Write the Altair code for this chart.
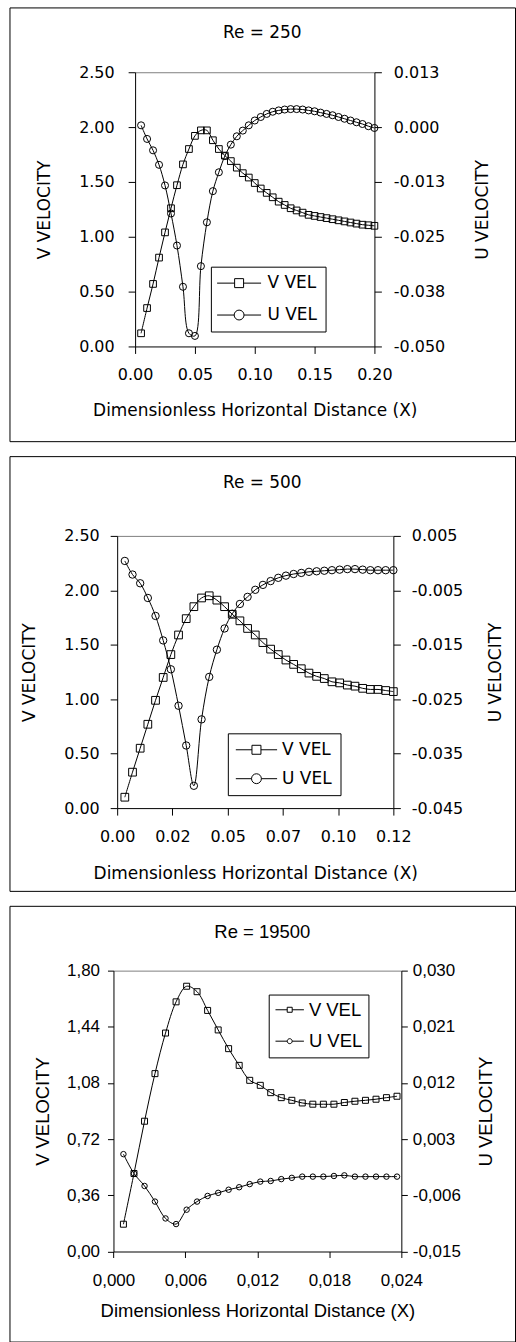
import altair as alt
import pandas as pd

# ---------------- data ----------------
series_names = ["V VEL", "U VEL"]

re250_x = [0.005, 0.010, 0.015, 0.020, 0.025, 0.030, 0.035, 0.040, 0.045, 0.050,
           0.055, 0.060, 0.065, 0.070, 0.075, 0.080, 0.085, 0.090, 0.095, 0.100,
           0.105, 0.110, 0.115, 0.120, 0.125, 0.130, 0.135, 0.140, 0.145, 0.150,
           0.155, 0.160, 0.165, 0.170, 0.175, 0.180, 0.185, 0.190, 0.195, 0.200]
re250_v = [0.12, 0.35, 0.57, 0.81, 1.04, 1.26, 1.47, 1.66, 1.80, 1.92,
           1.97, 1.97, 1.88, 1.80, 1.74, 1.69, 1.63, 1.58, 1.54, 1.49,
           1.44, 1.40, 1.36, 1.32, 1.29, 1.26, 1.24, 1.22, 1.20, 1.19,
           1.18, 1.17, 1.16, 1.15, 1.14, 1.13, 1.12, 1.11, 1.105, 1.10]
re250_u = [0.0004, -0.0027, -0.0053, -0.0086, -0.0133, -0.0197, -0.0270, -0.0364, -0.0470, -0.0476,
           -0.0317, -0.0217, -0.0146, -0.0103, -0.0066, -0.0040, -0.0021, -0.0008, 0.0004, 0.0015,
           0.0023, 0.0030, 0.0035, 0.0038, 0.0040, 0.0041, 0.0041, 0.0040, 0.0038, 0.0036,
           0.0033, 0.0030, 0.0027, 0.0023, 0.0019, 0.0015, 0.0011, 0.0007, 0.0002, -0.0002]

re500_x = [0.00333, 0.00667, 0.01000, 0.01333, 0.01667, 0.02000, 0.02333, 0.02667, 0.03000, 0.03333,
           0.03667, 0.04000, 0.04333, 0.04667, 0.05000, 0.05333, 0.05667, 0.06000, 0.06333, 0.06667,
           0.07000, 0.07333, 0.07667, 0.08000, 0.08333, 0.08667, 0.09000, 0.09333, 0.09667, 0.10000,
           0.10333, 0.10667, 0.11000, 0.11333, 0.11667, 0.12000]
re500_v = [0.10, 0.33, 0.55, 0.77, 0.99, 1.20, 1.41, 1.59, 1.74, 1.85,
           1.93, 1.95, 1.91, 1.85, 1.78, 1.72, 1.65, 1.59, 1.52, 1.46,
           1.41, 1.36, 1.32, 1.28, 1.24, 1.21, 1.19, 1.16, 1.15, 1.13,
           1.12, 1.10, 1.09, 1.09, 1.08, 1.07]
re500_u = [0.0004, -0.0021, -0.0037, -0.0064, -0.0097, -0.0142, -0.0195, -0.0262, -0.0335, -0.0409,
           -0.0287, -0.0209, -0.0159, -0.0120, -0.0093, -0.0075, -0.0062, -0.0049, -0.0040, -0.0033,
           -0.0027, -0.0023, -0.0020, -0.0018, -0.0016, -0.0015, -0.0014, -0.0013, -0.0012, -0.0011,
           -0.0011, -0.0012, -0.0013, -0.0013, -0.0013, -0.0013]

re19500_x = [0.00083, 0.00171, 0.00259, 0.00346, 0.00434, 0.00522, 0.00610, 0.00697, 0.00785, 0.00873,
             0.00960, 0.01048, 0.01136, 0.01224, 0.01311, 0.01399, 0.01487, 0.01574, 0.01662, 0.01750,
             0.01838, 0.01925, 0.02013, 0.02101, 0.02189, 0.02276, 0.02364]
re19500_v = [0.175, 0.50, 0.835, 1.14, 1.40, 1.60, 1.70, 1.665, 1.545, 1.42,
             1.30, 1.193, 1.097, 1.065, 1.018, 0.986, 0.969, 0.952, 0.944, 0.944,
             0.944, 0.955, 0.963, 0.969, 0.976, 0.986, 0.995]
re19500_u = [0.0006, -0.0025, -0.0045, -0.0070, -0.0097, -0.0106, -0.0083, -0.0070, -0.0061, -0.0056,
             -0.0051, -0.0047, -0.0042, -0.0038, -0.0037, -0.0034, -0.0032, -0.0030, -0.0030, -0.0030,
             -0.0029, -0.0028, -0.0030, -0.0030, -0.0030, -0.0030, -0.0030]

re250_xticks = [0.0, 0.05, 0.10, 0.15, 0.20]
re250_vticks = [0.0, 0.5, 1.0, 1.5, 2.0, 2.5]
re250_uticks = [-0.05, -0.0375, -0.025, -0.0125, 0.0, 0.0125]
re500_xticks = [0.0, 0.024, 0.048, 0.072, 0.096, 0.12]
re500_vticks = [0.0, 0.5, 1.0, 1.5, 2.0, 2.5]
re500_uticks = [-0.045, -0.035, -0.025, -0.015, -0.005, 0.005]
re19500_xticks = [0.0, 0.006, 0.012, 0.018, 0.024]
re19500_vticks = [0.0, 0.36, 0.72, 1.08, 1.44, 1.80]
re19500_uticks = [-0.015, -0.006, 0.003, 0.012, 0.021, 0.030]

W = 507
ROUND3 = "format(datum.value < 0 ? datum.value - 1e-9 : datum.value + 1e-9, '.3f')"


def legend_paths(half_line, sq, r):
    v = f"M{-half_line},0H{-sq}M{sq},0H{half_line}M{-sq},{-sq}H{sq}V{sq}H{-sq}Z"
    u = (f"M{-half_line},0H{-r}M{r},0H{half_line}"
         f"M{-r},0A{r},{r},0,1,1,{r},0A{r},{r},0,1,1,{-r},0Z")
    return [v, u]


def make_panel(title, xs, vs, us, xticks, vticks, uticks, g):
    df = pd.DataFrame({"x": xs, "V": vs, "U": us})
    H = g["H"]
    fnt = g["font"]
    common = dict(labelFont=fnt, labelFontSize=g["tick_fs"], labelColor="black", labelFlush=False,
                  titleFont=fnt, titleFontSize=g["title_fs"], titleFontWeight="normal",
                  titleColor="black", domainColor="black", domainWidth=1,
                  tickColor="black", tickWidth=1, grid=False)
    xkw = dict(orient="bottom", offset=g["y0"] - H, values=xticks, format=g["xfmt"],
               tickSize=g["tick"], labelPadding=g["xlab"] - g["tick"],
               labelBaseline="alphabetic", title="Dimensionless Horizontal Distance (X)",
               titleY=g["xtitle"], titleBaseline="alphabetic", **common)
    vkw = dict(orient="left", offset=-g["x0"], values=vticks, format=g["vfmt"],
               tickSize=g["tick"], labelPadding=g["vpad"], title="V VELOCITY",
               titleAngle=270, titleX=g["vtitle"], titleY=(g["y0"] + g["y1"]) / 2,
               titleBaseline="alphabetic", titleAlign="center", **common)
    ukw = dict(orient="right", offset=g["x1"] - W, values=uticks, format=".3f",
               tickSize=g["tick"], labelPadding=g["upad"], title="U VELOCITY",
               titleAngle=270, titleX=g["utitle"], titleY=(g["y0"] + g["y1"]) / 2,
               titleBaseline="alphabetic", titleAlign="center", **common)
    if g["round_u"]:
        ukw["labelExpr"] = ROUND3
    if g["comma"]:
        for kw in (xkw, vkw, ukw):
            kw["labelExpr"] = "replace(datum.label, '.', ',')"

    def xs_scale():
        return alt.Scale(domain=[xticks[0], xticks[-1]], range=[g["x0"], g["x1"]], nice=False, zero=False)

    x_enc = alt.X("x:Q", scale=xs_scale(), axis=alt.Axis(**xkw))
    x_top = alt.X("x:Q", scale=xs_scale(),
                  axis=alt.Axis(orient="top", offset=-g["y1"], domainColor="#808080", domainWidth=1,
                                ticks=False, labels=False, title=None, grid=False))
    y_v = alt.Y("V:Q", scale=alt.Scale(domain=[vticks[0], vticks[-1]], range=[g["y0"], g["y1"]],
                                       nice=False, zero=False), axis=alt.Axis(**vkw))
    y_u = alt.Y("U:Q", scale=alt.Scale(domain=[uticks[0], uticks[-1]], range=[g["y0"], g["y1"]],
                                       nice=False, zero=False), axis=alt.Axis(**ukw))

    base = alt.Chart(df)
    v_line = base.mark_line(interpolate="catmull-rom", color="black", strokeWidth=1).encode(x=x_enc, y=y_v)
    v_pts = base.mark_point(shape="square", filled=False, color="black", size=g["sq"],
                            strokeWidth=1, opacity=1).encode(x=x_enc, y=y_v)
    legkw = dict(orient="none", legendX=g["lx"], legendY=g["ly"], title=None, direction="vertical",
                 strokeColor="black", fillColor="white", padding=g["lpad"],
                 labelFont=fnt, labelFontSize=g["leg_fs"], labelColor="black",
                 symbolSize=g["lsize"], symbolStrokeColor="black", symbolStrokeWidth=1,
                 symbolOpacity=1, rowPadding=g["lrow"], symbolOffset=g["lso"], labelOffset=g["llo"])
    leg = (base.transform_calculate(series="'V VEL'").transform_filter("false")
           .mark_point(filled=False, color="black", strokeWidth=1, opacity=1, size=g["lsize"])
           .encode(x=x_enc, y=y_v,
                   shape=alt.Shape("series:N",
                                   scale=alt.Scale(domain=series_names, range=g["lpaths"]),
                                   legend=alt.Legend(**legkw))))
    u_line = base.mark_line(interpolate="catmull-rom", color="black", strokeWidth=1).encode(x=x_top, y=y_u)
    u_pts = base.mark_point(shape="circle", filled=False, color="black", size=g["ci"],
                            strokeWidth=1, opacity=1).encode(x=x_top, y=y_u)

    layer_a = alt.layer(v_line, v_pts, leg)
    layer_b = alt.layer(u_line, u_pts)
    return (alt.layer(layer_a, layer_b)
            .resolve_scale(x="independent", y="independent")
            .properties(width=W, height=H,
                        title=alt.TitleParams(title, font=fnt, fontSize=g["main_fs"], fontWeight="normal",
                                              color="black", anchor="middle", frame="group",
                                              offset=g["toff"], baseline="alphabetic")))


g1 = dict(H=435, x0=126, x1=366, y0=340, y1=65, tick=7, xlab=33, xtitle=69.5, vpad=14, upad=12,
          vtitle=-86, utitle=113, font="DejaVu Sans", tick_fs=16, title_fs=17, main_fs=17, leg_fs=17,
          toff=-48, xfmt=".2f", vfmt=".2f", comma=False, round_u=True,
          lx=202, ly=260, lpad=8, lso=11.8, llo=19.9, lrow=14, lsize=81,
          lpaths=legend_paths(4.9, 1, 1.1), sq=45, ci=50)
g2 = dict(H=436, x0=108, x1=385, y0=353, y1=80, tick=7, xlab=33, xtitle=70.4, vpad=11, upad=11,
          vtitle=-82.4, utitle=107, font="DejaVu Sans", tick_fs=16, title_fs=17, main_fs=17, leg_fs=17,
          toff=-49, xfmt=".2f", vfmt=".2f", comma=False, round_u=False,
          lx=219, ly=278, lpad=8, lso=12.2, llo=17.2, lrow=11, lsize=81,
          lpaths=legend_paths(4.6, 1, 1.1), sq=60, ci=55)
g3 = dict(H=437, x0=104.3, x1=393, y0=346.7, y1=65, tick=6, xlab=34, xtitle=65, vpad=8, upad=5,
          vtitle=-65.6, utitle=90.7, font="Liberation Sans", tick_fs=17, title_fs=18.5, main_fs=18.5,
          leg_fs=18.5, toff=-51, xfmt=".3f", vfmt=".2f", comma=True, round_u=False,
          lx=260, ly=89, lpad=6, lso=5.8, llo=10, lrow=12.5, lsize=25,
          lpaths=legend_paths(5.7, 1, 1), sq=36, ci=30)

p1 = make_panel("Re = 250", re250_x, re250_v, re250_u, re250_xticks, re250_vticks, re250_uticks, g1)
p2 = make_panel("Re = 500", re500_x, re500_v, re500_u, re500_xticks, re500_vticks, re500_uticks, g2)
p3 = make_panel("Re = 19500", re19500_x, re19500_v, re19500_u, re19500_xticks, re19500_vticks,
                re19500_uticks, g3)

chart = (alt.vconcat(p1, p2, p3, spacing=15, bounds="flush")
         .resolve_scale(shape="independent")
         .resolve_legend(shape="independent")
         .properties(padding={"left": 8.5, "top": 4.5, "right": 0, "bottom": 0})
         .configure(locale={"number": {"decimal": ".", "thousands": ",", "grouping": [3],
                                       "currency": ["$", ""], "minus": "-"}})
         .configure_view(stroke="black", strokeWidth=1))

chart.save("out.html", embed_options={"renderer": "svg", "actions": False})
